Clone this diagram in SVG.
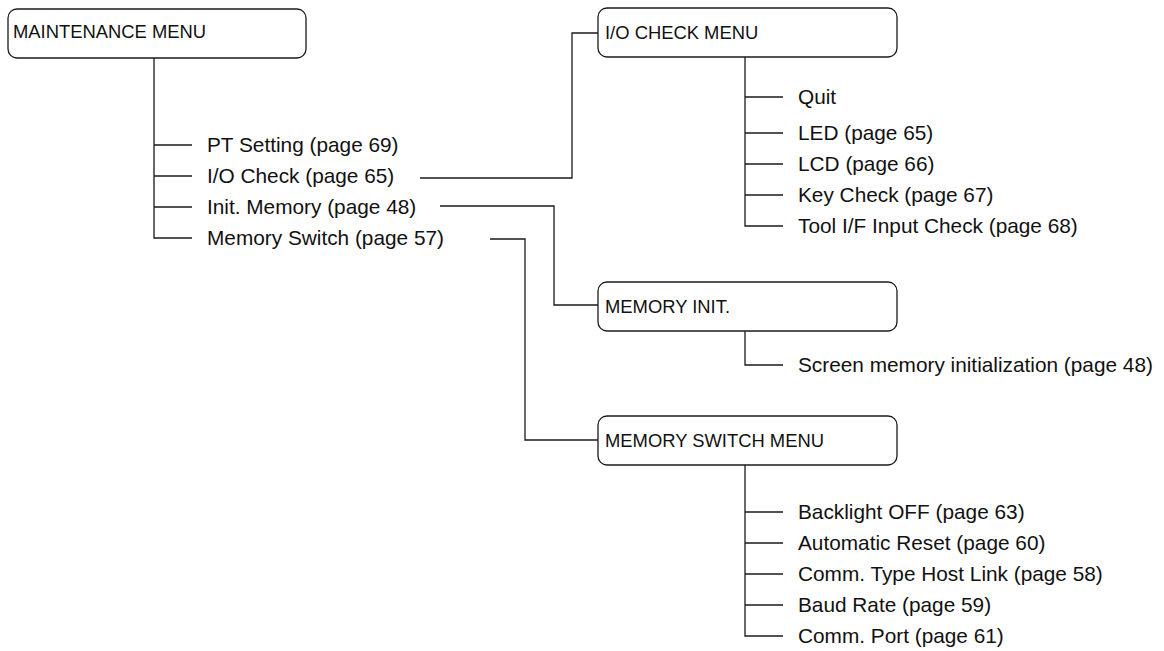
<svg xmlns="http://www.w3.org/2000/svg" width="1164" height="651" viewBox="0 0 1164 651">
<style>
.box{fill:#fff;stroke:#1a1a1a;stroke-width:1.3}
.lbl{font-family:"Liberation Sans",Arial,sans-serif;font-size:18.4px;fill:#111}
.itm{font-family:"Liberation Sans",Arial,sans-serif;font-size:20.8px;fill:#111}
.ln{fill:none;stroke:#1a1a1a;stroke-width:1.3}
</style>
<rect width="1164" height="651" fill="#fff"/>
<g id="connectors">
<path class="ln" d="M154 58V238H192M154 145H192M154 176H192M154 207H192"/>
<path class="ln" d="M420 178H572V33H598"/>
<path class="ln" d="M440 206H554V305H598"/>
<path class="ln" d="M490 239H525V440H598"/>
<path class="ln" d="M745 57V226H783M745 97H783M745 133H783M745 164H783M745 195H783"/>
<path class="ln" d="M745 331V365H783"/>
<path class="ln" d="M745 465V636H783M745 512H783M745 543H783M745 574H783M745 605H783"/>
</g>
<g id="maintenance-menu">
<rect class="box" x="8" y="9" width="298" height="49" rx="9"/>
<text class="lbl" x="13" y="38">MAINTENANCE MENU</text>
</g>
<g id="main-items">
<text class="itm" x="207" y="152">PT Setting (page 69)</text>
<text class="itm" x="207" y="183">I/O Check (page 65)</text>
<text class="itm" x="207" y="214">Init. Memory (page 48)</text>
<text class="itm" x="207" y="245">Memory Switch (page 57)</text>
</g>
<g id="io-check-menu">
<rect class="box" x="598" y="8" width="299" height="49" rx="9"/>
<text class="lbl" x="605" y="39">I/O CHECK MENU</text>
</g>
<g id="io-items">
<text class="itm" x="798" y="104">Quit</text>
<text class="itm" x="798" y="140">LED (page 65)</text>
<text class="itm" x="798" y="171">LCD (page 66)</text>
<text class="itm" x="798" y="202">Key Check (page 67)</text>
<text class="itm" x="798" y="233">Tool I/F Input Check (page 68)</text>
</g>
<g id="memory-init">
<rect class="box" x="598" y="282" width="299" height="49" rx="9"/>
<text class="lbl" x="605" y="313">MEMORY INIT.</text>
</g>
<g id="memory-init-items">
<text class="itm" x="798" y="372">Screen memory initialization (page 48)</text>
</g>
<g id="memory-switch-menu">
<rect class="box" x="598" y="416" width="299" height="49" rx="9"/>
<text class="lbl" x="605" y="447">MEMORY SWITCH MENU</text>
</g>
<g id="memory-switch-items">
<text class="itm" x="798" y="519">Backlight OFF (page 63)</text>
<text class="itm" x="798" y="550">Automatic Reset (page 60)</text>
<text class="itm" x="798" y="581">Comm. Type Host Link (page 58)</text>
<text class="itm" x="798" y="612">Baud Rate (page 59)</text>
<text class="itm" x="798" y="643">Comm. Port (page 61)</text>
</g>
</svg>
